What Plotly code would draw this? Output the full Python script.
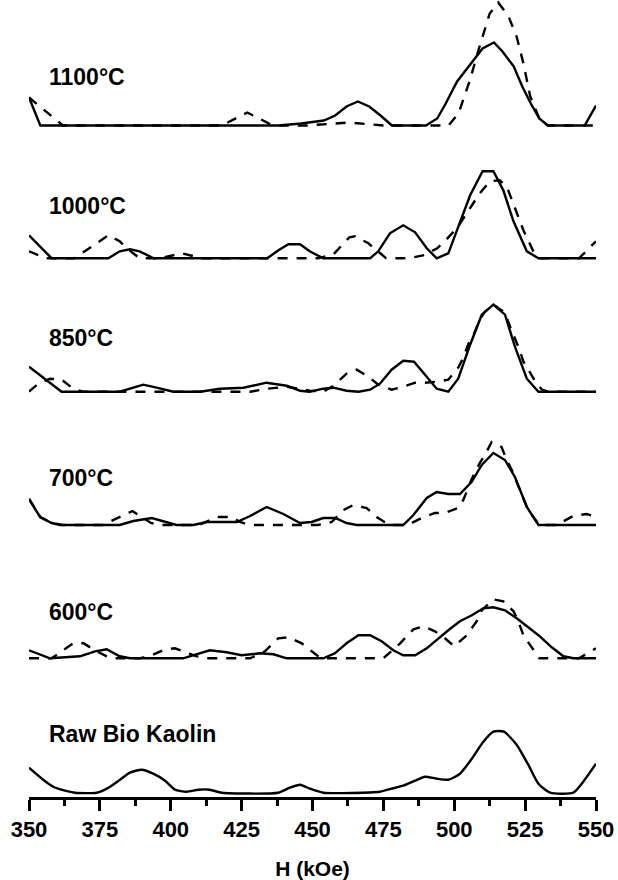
import plotly.graph_objects as go

# ---------------- data ----------------
# hyperfine field H (kOe) and relative intensity (arbitrary units)
h1100_solid = [350, 354, 438, 446, 454, 458, 462, 466, 470, 474, 478, 490, 494, 497, 501, 506, 510, 514, 517, 521, 524, 527, 530, 533, 546, 550]
v1100_solid = [28, 0, 0, 2, 5, 10, 19, 24, 19, 10, 0, 0, 7, 22, 44, 62, 77, 83, 74, 59, 39, 22, 7, 0, 0, 20]
h1100_dash = [350, 362, 418, 427, 436, 448, 463, 475, 498, 501.5, 505.5, 508.5, 512.5, 515.5, 519, 522, 524.4, 526.8, 530.3, 533, 550]
v1100_dash = [28, 0, 0, 13, 0, 0, 3, 0, 0, 12, 45, 75, 112, 123, 110, 89, 62, 29, 5, 0, 0]

h1000_solid = [350, 358, 378, 382, 385.6, 389, 394, 434, 438, 441.5, 445.6, 449, 453.8, 470.3, 473.2, 477.3, 482, 486.2, 490.3, 493.8, 497.9, 501.4, 505.6, 510, 513.8, 517.3, 520.9, 525.6, 529.7, 550]
v1000_solid = [23, 0, 0, 7, 9, 7, 0, 0, 8, 14, 14, 7, 0, 0, 7, 25, 33, 26, 10, 0, 5, 32, 63, 87, 87, 68, 37, 7, 0, 0]
h1000_dash = [350, 356, 366, 378, 382, 384.5, 389, 396, 404, 411, 452, 457.4, 463, 465, 469.7, 476, 484, 489, 494, 497, 501.4, 503.7, 506.2, 509, 512.6, 516, 518.5, 520.3, 522.6, 524.4, 527.9, 530, 544, 550]
v1000_dash = [7, 0, 0, 23, 17, 10, 0, 0, 5, 0, 0, 4, 21, 22, 15, 0, 0, 3, 10, 18, 32, 42, 53, 65, 77, 78, 72, 58, 40, 28, 7, 0, 0, 17]

h850_solid = [350, 361.5, 382, 385.6, 390.3, 395, 400.9, 410.3, 417.4, 425.6, 433.8, 440.9, 445.6, 449, 453.8, 457.4, 462, 466.2, 470.3, 473.8, 477.9, 482, 485.8, 489.7, 493.8, 497.9, 501.4, 505.6, 509.7, 513.8, 517.9, 521.4, 525.6, 529.7, 550]
v850_solid = [25, 0, 0, 3, 7, 4, 0, 0, 3, 4, 9, 6, 1, 0, 3, 4, 1, 0, 2, 8, 22, 31, 30, 17, 3, 0, 13, 47, 77, 87, 77, 45, 13, 0, 0]
h850_dash = [350, 353.3, 357.4, 361.5, 365.6, 369, 428, 434, 441, 449, 453.8, 457.4, 462, 465.6, 469.7, 473.2, 477.9, 482, 486.2, 489.7, 493.8, 497.9, 501.4, 503.2, 505, 507, 509, 510.8, 513.8, 517.9, 519.7, 521.4, 523, 524.4, 526.8, 529.1, 531, 533, 550]
v850_dash = [0, 8, 13, 12, 3, 0, 0, 3, 5, 1, 0, 6, 18, 22, 15, 7, 2, 5, 9, 9, 10, 12, 24, 34, 48, 58, 72, 80, 87, 79, 65, 53, 42, 30, 18, 8, 2, 0, 0]

h700_solid = [350, 353.9, 358, 361, 382, 386.8, 393.3, 398.6, 402, 408, 412.7, 423.3, 428, 433.8, 439.7, 445.6, 449.7, 453.8, 458, 462, 465.6, 482, 485.6, 490.3, 493.8, 497.9, 502, 506.1, 509.7, 513.8, 517.9, 521.4, 525.6, 529.7, 550]
v700_solid = [26, 8, 2, 0, 0, 4, 7, 3, 0, 0, 3, 3, 9, 18, 11, 2, 3, 7, 7, 2, 0, 0, 10, 27, 33, 31, 31, 43, 60, 72, 65, 48, 18, 0, 0]
h700_dash = [350, 354, 358, 362, 376, 386.5, 393, 396, 410, 416.2, 421.5, 424.4, 428, 452, 456.8, 460.9, 464.4, 469.1, 472.6, 477, 482, 485, 488.5, 493.2, 496.7, 501.4, 503.2, 505, 506, 509, 510.8, 513.2, 516.7, 518.5, 520.3, 525.6, 527.4, 530, 536, 542, 546.7, 550]
v700_dash = [26, 8, 2, 0, 0, 14, 2, 0, 0, 8, 8, 3, 0, 0, 3, 15, 20, 17, 8, 0, 0, 2, 7, 12, 12, 17, 25, 37, 45, 62, 70, 83, 78, 65, 55, 18, 10, 0, 0, 9, 11, 8]

h600_solid = [350, 357.4, 368, 373.3, 377.4, 382, 385.6, 404.4, 409, 413.8, 419.7, 425, 431.5, 436.2, 440.9, 453.8, 457.9, 462, 466.2, 470.3, 474.4, 478.5, 482, 486.2, 490.3, 494.4, 497.9, 502, 506.2, 510.2, 513.8, 517.9, 522, 526.1, 530.2, 534.4, 538.5, 542, 550]
v600_solid = [8, 0, 2, 7, 9, 2, 0, 0, 4, 8, 6, 3, 5, 4, 0, 0, 5, 15, 23, 23, 17, 8, 3, 3, 10, 20, 28, 37, 43, 50, 51, 48, 40, 31, 22, 11, 2, 0, 0]
h600_dash = [350, 358, 361.5, 365.6, 369.2, 373.3, 377.4, 380, 389, 393.3, 398, 401.5, 406.2, 409.2, 412, 428, 433.2, 437.9, 441.5, 446.2, 449.7, 453, 475, 477.9, 480.9, 485.6, 489.1, 493.2, 496.7, 500, 504.4, 507.9, 509.7, 513.8, 517.3, 520.9, 522.6, 524.4, 526.8, 530, 544, 550]
v600_dash = [0, 0, 7, 15, 15, 8, 2, 0, 0, 3, 9, 10, 5, 2, 0, 0, 7, 20, 21, 15, 7, 0, 0, 7, 15, 29, 32, 27, 20, 12, 23, 37, 48, 59, 57, 47, 37, 23, 13, 0, 0, 10]

hraw_solid = [350, 355, 358.6, 362.7, 366.2, 373.9, 378, 382.1, 385.6, 389.8, 393.8, 398, 401.5, 405.6, 409.7, 413.8, 418, 437.9, 442, 445.6, 449.1, 453.8, 473.8, 477.9, 482, 486.2, 489.7, 493.8, 497.9, 502, 506.2, 510, 513.8, 517.5, 522, 526.1, 529.7, 533.8, 542, 545.5, 550]
vraw_solid = [25, 13, 6, 2, 0, 0, 5, 13, 20, 23, 19, 12, 3, 1, 3, 3, 0, 0, 5, 8, 4, 0, 1, 4, 7, 12, 16, 14, 13, 19, 34, 50, 61, 61, 48, 28, 9, 0, 0, 11, 29]

panel_labels = ["1100°C", "1000°C", "850°C", "700°C", "600°C", "Raw Bio Kaolin"]
x_ticks = [350, 375, 400, 425, 450, 475, 500, 525, 550]
x_title = "H (kOe)"

# ---------------- layout of the stacked panels ----------------
offsets = [671.5, 538.7, 405.3, 272.0, 138.7, 4.3]   # vertical shift of each panel
label_y = [720.3, 591.0, 459.0, 319.3, 185.0, 63.3]

panels = [
    (h1100_solid, v1100_solid, h1100_dash, v1100_dash),
    (h1000_solid, v1000_solid, h1000_dash, v1000_dash),
    (h850_solid, v850_solid, h850_dash, v850_dash),
    (h700_solid, v700_solid, h700_dash, v700_dash),
    (h600_solid, v600_solid, h600_dash, v600_dash),
    (hraw_solid, vraw_solid, None, None),
]

FONT = "Liberation Sans, Arial, sans-serif"
fig = go.Figure()
for i, (hs, vs, hd, vd) in enumerate(panels):
    off = offsets[i]
    if hd is not None:
        fig.add_trace(go.Scatter(
            x=hd, y=[v + off for v in vd], mode="lines",
            line=dict(color="black", width=2.4, dash="10px,9px"),
            showlegend=False, hoverinfo="skip"))
    shape = "spline" if hd is None else "linear"
    fig.add_trace(go.Scatter(
        x=hs, y=[v + off for v in vs], mode="lines",
        line=dict(color="black", width=2.4, shape=shape, smoothing=0.6),
        showlegend=False, hoverinfo="skip"))
    fig.add_annotation(x=356.5, y=label_y[i], xref="x", yref="y",
                       text=panel_labels[i], showarrow=False,
                       xanchor="left", yanchor="middle",
                       font=dict(family=FONT, size=23, color="black", weight="bold"))

fig.update_layout(
    width=618, height=880,
    margin=dict(l=29, r=22, t=0, b=83),
    paper_bgcolor="white", plot_bgcolor="white",
    xaxis=dict(range=[350, 550], tickvals=x_ticks,
               showgrid=False, zeroline=False,
               showline=True, linecolor="black", linewidth=2.5,
               ticks="outside", ticklen=11, tickwidth=2.5, tickcolor="black",
               minor=dict(dtick=12.5, tick0=350, ticks="outside", ticklen=6,
                          tickwidth=2.5, tickcolor="black"),
               tickfont=dict(family=FONT, size=22, color="black", weight="bold"),
               title=dict(text=x_title, standoff=24,
                          font=dict(family=FONT, size=21, color="black", weight="bold")),
               automargin=False),
    yaxis=dict(range=[0, 797], visible=False, fixedrange=True),
)

fig.write_html("out.html")
